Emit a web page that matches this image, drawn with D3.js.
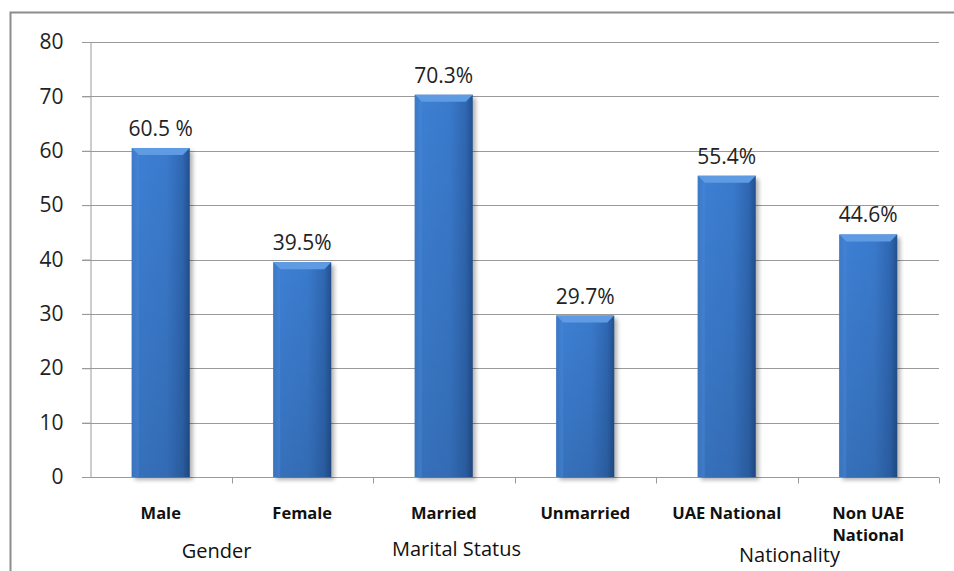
<!DOCTYPE html>
<html>
<head>
<meta charset="utf-8">
<script src="https://cdn.jsdelivr.net/npm/d3@7"></script>
<style>
  body { margin: 0; background: #fff; }
  svg { display: block; font-family: "Open Sans", "Liberation Sans", sans-serif; }
</style>
</head>
<body>
<svg id="chart" width="954" height="571"></svg>
<script>
const categories = ['Male', 'Female', 'Married', 'Unmarried', 'UAE National', 'Non UAE National'];
const values = [60.5, 39.5, 70.3, 29.7, 55.4, 44.6];
const valueLabels = ['60.5 %', '39.5%', '70.3%', '29.7%', '55.4%', '44.6%'];
const yTicks = [0, 10, 20, 30, 40, 50, 60, 70, 80];
const groups = ['Gender', 'Marital Status', 'Nationality'];
const groupSpans = [[0, 1], [2, 3], [4, 5]];

const svg = d3.select('#chart');
const margin = { left: 90, right: 15, top: 42, bottom: 94 };
const width = 954, height = 571;

// chart frame
svg.append('path')
  .attr('d', `M10.5,${height} V12.5 H${width}`)
  .attr('fill', 'none').attr('stroke', '#8c8c8c').attr('stroke-width', 2);

const x = d3.scaleBand().domain(categories)
  .range([margin.left, width - margin.right]).paddingInner(0.59).paddingOuter(0.295);
const y = d3.scaleLinear().domain([0, 80]).range([height - margin.bottom, margin.top]);

const defs = svg.append('defs');
const grad = defs.append('linearGradient').attr('id', 'barGrad').attr('x1', 0).attr('x2', 1);
grad.append('stop').attr('offset', '0%').attr('stop-color', '#2f68b6');
grad.append('stop').attr('offset', '12%').attr('stop-color', '#3d7fd3');
grad.append('stop').attr('offset', '60%').attr('stop-color', '#3a7acc');
grad.append('stop').attr('offset', '88%').attr('stop-color', '#2f67b2');
grad.append('stop').attr('offset', '100%').attr('stop-color', '#22508f');
const vgrad = defs.append('linearGradient').attr('id', 'shade').attr('x1', 0).attr('x2', 0).attr('y1', 0).attr('y2', 1);
vgrad.append('stop').attr('offset', '0%').attr('stop-color', '#000').attr('stop-opacity', 0);
vgrad.append('stop').attr('offset', '100%').attr('stop-color', '#000').attr('stop-opacity', 0.12);
const blur = defs.append('filter').attr('id', 'shadow').attr('x', '-20%').attr('y', '-20%').attr('width', '140%').attr('height', '140%');
blur.append('feGaussianBlur').attr('stdDeviation', 2);

// gridlines
svg.append('g').selectAll('line').data(yTicks.slice(1)).join('line')
  .attr('x1', margin.left - 8).attr('x2', width - margin.right)
  .attr('y1', d => Math.round(y(d)) + 0.5).attr('y2', d => Math.round(y(d)) + 0.5)
  .attr('stroke', '#9a9a9a').attr('stroke-width', 1);

// y axis
const yAxis = svg.append('g').attr('transform', `translate(${margin.left + 0.5},0)`)
  .call(d3.axisLeft(y).tickValues(yTicks).tickSize(8).tickPadding(19));
yAxis.attr('font-size', 21).attr('font-family', '"Open Sans", sans-serif');
yAxis.select('.domain').attr('stroke', '#9a9a9a');
yAxis.selectAll('.tick line').attr('stroke', '#9a9a9a');
yAxis.selectAll('.tick text').attr('fill', '#222');

// x axis
const y0 = Math.round(y(0)) + 0.5;
svg.append('line').attr('x1', margin.left - 8).attr('x2', width - margin.right)
  .attr('y1', y0).attr('y2', y0).attr('stroke', '#9a9a9a');
const step = x.step();
svg.append('g').selectAll('line').data(d3.range(1, categories.length + 1)).join('line')
  .attr('x1', i => Math.round(margin.left + i * step) + 0.5)
  .attr('x2', i => Math.round(margin.left + i * step) + 0.5)
  .attr('y1', y0).attr('y2', y0 + 6).attr('stroke', '#9a9a9a');

// bars
const bars = svg.append('g').selectAll('g').data(categories).join('g');
bars.append('rect')
  .attr('x', d => x(d) + 3).attr('y', (d, i) => y(values[i]) + 3)
  .attr('width', x.bandwidth()).attr('height', (d, i) => y(0) - y(values[i]))
  .attr('fill', '#000').attr('opacity', 0.3).attr('filter', 'url(#shadow)');
bars.append('rect')
  .attr('x', d => x(d)).attr('y', (d, i) => y(values[i]))
  .attr('width', x.bandwidth()).attr('height', (d, i) => y(0) - y(values[i]))
  .attr('fill', 'url(#barGrad)');
bars.append('rect')
  .attr('x', d => x(d)).attr('y', (d, i) => y(values[i]))
  .attr('width', x.bandwidth()).attr('height', (d, i) => y(0) - y(values[i]))
  .attr('fill', 'url(#shade)');
// top bevel
bars.append('path')
  .attr('d', (d, i) => {
    const x0 = x(d), x1 = x(d) + x.bandwidth(), yt = y(values[i]);
    return `M${x0},${yt} H${x1} L${x1 - 7},${yt + 7} H${x0 + 7} Z`;
  })
  .attr('fill', '#5f9be3');
bars.append('path')
  .attr('d', (d, i) => {
    const x0 = x(d), yt = y(values[i]);
    return `M${x0},${yt} L${x0 + 7},${yt + 7} V${y(0)} H${x0} Z`;
  })
  .attr('fill', '#4a8ad8').attr('opacity', 0.5);

// value labels
svg.append('g').selectAll('text').data(categories).join('text')
  .attr('x', d => x(d) + x.bandwidth() / 2)
  .attr('y', (d, i) => y(values[i]) - 12)
  .attr('text-anchor', 'middle').attr('font-size', 21).attr('fill', '#222')
  .text((d, i) => valueLabels[i]);

// category labels
const catLabels = svg.append('g').selectAll('text').data(categories).join('text')
  .attr('text-anchor', 'middle').attr('font-size', 16.5).attr('font-weight', 'bold')
  .attr('fill', '#111').attr('font-family', '"Open Sans", sans-serif');
catLabels.each(function (d) {
  const words = d === 'Non UAE National' ? ['Non UAE', 'National'] : [d];
  const t = d3.select(this);
  words.forEach((w, k) => {
    t.append('tspan').attr('x', x(d) + x.bandwidth() / 2)
      .attr('y', 519 + k * 22).text(w);
  });
});

// group labels
const groupOffsets = [-15, -58, -8];
const groupY = [558, 556, 562];
svg.append('g').selectAll('text').data(groups).join('text')
  .attr('x', (g, i) => (x(categories[groupSpans[i][0]]) + x(categories[groupSpans[i][1]]) + x.bandwidth()) / 2 + groupOffsets[i])
  .attr('y', (g, i) => groupY[i])
  .attr('text-anchor', 'middle').attr('font-size', 20).attr('fill', '#111')
  .text(g => g);
</script>
</body>
</html>
